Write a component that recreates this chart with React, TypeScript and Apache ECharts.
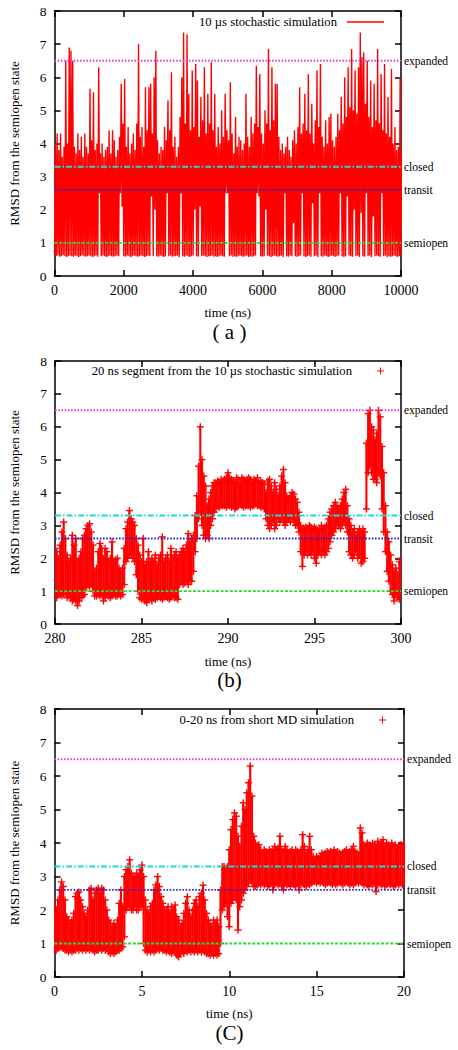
import React, { useEffect, useRef } from "react";
import * as echarts from "echarts";

// ---------- data ----------
const stateNames = ["expanded", "closed", "transit", "semiopen"];
const stateLevels = [6.5, 3.3, 2.6, 1.0];
const stateColors = ["#e040e0", "#20d8d8", "#2828c8", "#30d830"];
const stateDash = [[1.6, 1.6], [6, 2, 1.6, 2], [1.6, 1.6], [3, 1.6]];

const legendA = "10 µs stochastic simulation";
const legendB = "20 ns segment from the 10 µs stochastic simulation";
const legendC = "0-20 ns from short MD simulation";
const panelTags = ["( a )", "(b)", "(C)"];

// panel (a): 50 ns bins, 0..10000 ns, lower and upper value in each bin
const binA = 50;
const rangeA = [0, 10000];
const stepA = 2000;
const highA = [
  4.0, 4.3, 3.8, 4.3, 3.6, 3.9, 6.5, 4.0, 6.9, 6.8,
  6.5, 3.9, 3.7, 4.3, 3.8, 4.2, 3.6, 4.3, 3.9, 3.7,
  5.65, 4.1, 5.55, 3.8, 4.0, 6.3, 3.7, 4.0, 3.6, 3.8,
  3.9, 4.4, 3.7, 4.4, 4.1, 3.6, 3.8, 4.2, 5.8, 4.6,
  5.95, 3.9, 4.5, 3.7, 4.0, 4.3, 3.8, 4.6, 7.0, 4.2,
  4.5, 3.9, 5.7, 4.4, 5.7, 5.8, 4.3, 6.0, 6.8, 4.1,
  3.7, 3.9, 3.8, 4.5, 4.1, 5.3, 4.4, 6.15, 3.9, 4.2,
  3.6, 3.9, 4.8, 6.0, 7.35, 4.6, 7.3, 5.5, 4.4, 6.2,
  4.5, 6.4, 5.9, 4.2, 5.4, 4.7, 6.3, 4.3, 5.5, 4.6,
  6.45, 4.4, 5.5, 3.9, 4.5, 4.0, 5.0, 4.2, 5.5, 4.4,
  4.1, 5.85, 4.3, 3.7, 4.8, 3.9, 4.2, 4.1, 3.8, 4.0,
  5.5, 4.2, 3.9, 4.8, 4.3, 4.6, 6.35, 4.5, 6.1, 4.3,
  4.0, 5.0, 4.6, 6.85, 4.4, 6.3, 4.7, 5.8, 5.8, 4.2,
  3.8, 4.0, 3.7, 3.9, 4.2, 3.8, 3.6, 4.1, 4.4, 4.0,
  4.5, 5.7, 4.3, 4.6, 5.5, 4.4, 6.1, 4.3, 5.2, 4.0,
  4.7, 6.2, 4.5, 6.4, 4.2, 3.9, 4.7, 4.0, 4.8, 4.9,
  4.1, 3.9, 4.2, 4.9, 4.4, 5.4, 4.6, 6.0, 4.8, 6.3,
  5.1, 6.85, 5.0, 6.2, 4.9, 6.3, 7.35, 6.6, 6.75, 5.2,
  6.5, 4.8, 5.9, 4.5, 5.8, 4.7, 6.85, 4.6, 6.1, 4.4,
  6.4, 4.3, 5.4, 4.2, 6.25, 4.0, 4.5, 3.8, 3.9, 6.0,
  3.7,
];
const lowA = [
  0.65, 0.6, 0.62, 0.58, 0.6, 0.63, 0.6, 0.57, 0.6, 0.62,
  0.6, 0.58, 0.62, 0.6, 0.57, 0.6, 0.63, 0.6, 0.58, 0.6,
  0.62, 0.6, 0.57, 0.6, 0.62, 0.58, 2.5, 0.6, 0.62, 0.6,
  0.57, 0.6, 0.62, 0.6, 0.58, 0.6, 0.62, 0.6, 2.5, 2.1,
  0.6, 0.58, 0.62, 0.6, 0.57, 0.6, 0.62, 0.6, 0.58, 0.6,
  0.62, 0.6, 0.57, 0.6, 0.62, 0.6, 2.4, 0.6, 2.0, 0.6,
  0.58, 0.62, 0.6, 0.57, 0.6, 2.5, 0.6, 0.62, 0.58, 0.6,
  0.6, 0.62, 0.57, 2.5, 0.6, 0.58, 0.62, 0.6, 0.57, 0.6,
  0.62, 2.0, 0.6, 0.58, 2.1, 0.6, 0.62, 0.6, 0.57, 0.6,
  0.6, 0.62, 0.58, 0.6, 0.57, 0.6, 0.62, 0.6, 0.58, 2.5,
  2.5, 0.6, 0.62, 0.58, 0.6, 0.57, 0.6, 0.62, 0.6, 0.58,
  0.6, 0.62, 0.57, 0.6, 0.58, 0.6, 0.62, 2.5, 2.4, 0.6,
  0.58, 0.6, 2.0, 0.62, 0.6, 0.57, 0.6, 0.62, 0.6, 0.58,
  0.6, 0.62, 0.57, 2.5, 0.6, 0.58, 0.62, 0.6, 1.6, 0.6,
  0.58, 0.6, 0.62, 2.5, 0.6, 0.57, 0.6, 0.62, 0.58, 2.2,
  0.6, 0.62, 0.57, 2.5, 0.6, 0.58, 0.62, 0.6, 0.57, 0.6,
  0.62, 0.6, 0.58, 0.6, 0.62, 2.5, 0.6, 0.57, 0.6, 2.4,
  0.62, 0.6, 0.58, 2.0, 0.6, 0.62, 0.57, 1.9, 0.6, 0.58,
  2.5, 0.6, 0.62, 0.57, 1.8, 0.6, 0.62, 0.6, 0.58, 2.5,
  0.6, 0.62, 0.57, 0.6, 0.58, 0.6, 0.62, 0.6, 0.57, 0.6,
  0.62,
];

// panel (b): 0.1 ns bins, 280..300 ns
const binB = 0.1;
const rangeB = [280, 300];
const stepB = 5;
const lowB = [
  0.85, 0.8, 0.9, 0.9, 0.85, 0.9, 1.0, 0.8, 0.85, 0.8,
  0.7, 0.75, 0.7, 0.56, 0.7, 0.8, 0.85, 0.9, 1.1, 1.2,
  1.15, 1.2, 1.0, 0.85, 0.85, 0.9, 0.85, 0.9, 0.7, 0.8,
  0.9, 0.85, 0.8, 0.85, 0.9, 0.85, 0.85, 0.9, 0.85, 0.9,
  1.2, 1.9, 2.0, 2.1, 2.1, 2.0, 1.9, 1.5, 1.0, 0.8,
  0.75, 0.8, 0.7, 0.65, 0.75, 0.8, 0.7, 0.8, 0.75, 0.8,
  0.85, 0.8, 0.75, 0.8, 0.85, 0.8, 0.75, 0.8, 0.85, 0.8,
  0.8, 0.75, 1.2, 1.3, 1.2, 1.25, 1.3, 1.2, 1.3, 1.3,
  1.6, 2.2, 2.6, 3.2, 3.4, 3.0, 2.7, 2.6, 2.7, 2.6,
  3.0, 3.2, 3.4, 3.5, 3.6, 3.55, 3.6, 3.6, 3.6, 3.55,
  3.6, 3.6, 3.55, 3.6, 3.5, 3.55, 3.6, 3.65, 3.6, 3.55,
  3.6, 3.6, 3.6, 3.55, 3.6, 3.6, 3.65, 3.6, 3.6, 3.55,
  3.6, 3.5, 3.2, 3.0, 2.9, 3.0, 3.1, 2.9, 3.0, 3.2,
  3.1, 3.2, 3.1, 3.0, 3.1, 3.2, 3.1, 3.2, 3.1, 3.0,
  3.0, 2.8, 2.2, 1.75, 2.1, 2.2, 2.1, 2.2, 2.1, 2.2,
  2.0, 1.85, 2.1, 2.2, 2.1, 2.2, 2.1, 2.2, 2.3, 2.5,
  2.7, 2.8, 2.9, 3.0, 3.0, 2.9, 3.0, 3.1, 3.0, 2.8,
  2.2, 2.1, 2.0, 2.1, 2.2, 2.0, 2.1, 1.85, 1.9, 2.0,
  3.5, 4.6, 4.8, 4.6, 4.4, 4.4, 4.3, 4.6, 4.5, 3.5,
  2.8, 2.2, 1.6, 1.3, 1.0, 0.9, 0.7, 0.9, 0.8, 0.75,
  0.9,
];
const highB = [
  2.3, 2.2, 2.0, 2.4, 2.8, 3.1, 2.6, 2.1, 1.9, 2.0,
  2.7, 2.4, 2.6, 1.9, 2.0, 2.2, 2.6, 2.7, 2.9, 3.0,
  3.05, 2.8, 2.4, 1.6, 1.7, 2.2, 2.45, 2.3, 2.0, 2.3,
  2.2, 1.9, 2.0, 2.5, 1.9, 1.95, 2.0, 1.7, 1.6, 1.7,
  2.3, 2.9, 3.1, 3.45, 3.2, 3.1, 3.0, 2.6, 2.4, 2.1,
  1.9, 2.6, 1.8, 1.9, 2.2, 1.9, 2.0, 1.9, 2.1, 1.8,
  2.0, 2.1, 2.65, 1.9, 2.0, 2.1, 1.9, 2.3, 2.0, 2.1,
  2.2, 2.0, 2.1, 2.2, 2.3, 2.2, 2.4, 2.75, 2.5, 2.6,
  2.7, 3.3, 3.9, 4.8, 6.0, 5.0, 4.5, 4.2, 3.6, 3.8,
  4.0, 4.2, 4.3, 4.3, 4.35, 4.3, 4.4, 4.35, 4.4, 4.45,
  4.6, 4.45, 4.4, 4.35, 4.3, 4.45, 4.4, 4.3, 4.45, 4.4,
  4.35, 4.4, 4.45, 4.4, 4.3, 4.4, 4.35, 4.45, 4.3, 4.35,
  4.3, 4.25, 4.0, 4.35, 4.4, 4.2, 4.0, 4.3, 4.1, 3.9,
  4.2, 4.5, 4.7, 4.3, 3.9, 3.8, 3.9, 4.0, 3.95, 3.8,
  3.7, 3.4, 3.0, 2.9, 2.9, 2.95, 2.9, 3.0, 2.95, 2.9,
  2.95, 2.9, 2.85, 2.9, 3.0, 2.9, 2.95, 3.0, 3.2, 3.4,
  3.5, 3.6, 3.7, 3.6, 3.5, 3.6, 3.8, 4.0, 4.1, 3.6,
  3.2, 3.0, 2.8, 2.9, 2.7, 2.8, 2.9, 2.8, 2.9, 2.8,
  5.5, 6.4, 6.5, 6.0, 5.9, 5.6, 5.8, 6.5, 6.3, 5.4,
  4.6, 3.6, 2.8, 2.5, 2.1, 1.8, 1.6, 1.7, 1.5, 1.9,
  2.0,
];

// panel (c): 0.1 ns bins, 0..20 ns
const binC = 0.1;
const rangeC = [0, 20];
const stepC = 5;
const lowC = [
  0.8, 0.8, 0.85, 0.9, 0.9, 0.85, 0.8, 0.8, 0.75, 0.8,
  0.75, 0.8, 0.8, 0.85, 0.8, 0.85, 0.8, 0.85, 0.8, 0.85,
  0.8, 0.85, 0.8, 0.75, 0.8, 0.8, 0.85, 0.8, 0.85, 0.8,
  0.85, 0.75, 0.7, 0.75, 0.7, 0.75, 0.8, 0.8, 0.85, 0.9,
  1.2, 2.0, 2.1, 2.1, 2.0, 2.0, 2.1, 2.0, 2.0, 2.1,
  2.1, 1.0, 0.8, 0.75, 0.8, 0.75, 0.8, 0.75, 0.8, 0.85,
  0.8, 0.85, 0.8, 0.8, 0.75, 0.8, 0.75, 0.7, 0.8, 0.75,
  0.65, 0.6, 0.7, 0.75, 0.7, 0.8, 0.75, 0.8, 0.75, 0.8,
  0.75, 0.8, 0.75, 0.8, 0.75, 0.8, 0.75, 0.7, 0.7, 0.65,
  0.7, 0.65, 0.7, 0.65, 0.7, 1.0, 2.0, 2.1, 2.2, 1.8,
  1.5, 2.2, 2.3, 2.4, 2.3, 1.4, 2.1, 2.3, 2.5, 2.6,
  2.7, 2.8, 2.9, 2.8, 2.7, 2.7, 2.75, 2.8, 2.75, 2.8,
  2.75, 2.8, 2.7, 2.75, 2.8, 2.6, 2.75, 2.8, 2.75, 2.8,
  2.7, 2.6, 2.8, 2.75, 2.8, 2.7, 2.8, 2.75, 2.7, 2.8,
  2.6, 2.75, 2.8, 2.75, 2.7, 2.8, 2.75, 2.8, 2.85, 2.85,
  2.8, 2.85, 2.8, 2.85, 2.8, 2.75, 2.8, 2.85, 2.8, 2.75,
  2.8, 2.75, 2.8, 2.85, 2.8, 2.75, 2.8, 2.85, 2.8, 2.75,
  2.8, 2.75, 2.8, 2.85, 2.8, 2.85, 2.8, 2.75, 2.8, 2.75,
  2.7, 2.8, 2.75, 2.8, 2.55, 2.75, 2.8, 2.75, 2.8, 2.7,
  2.75, 2.8, 2.75, 2.8, 2.7, 2.75, 2.8, 2.75, 2.8, 2.75,
  2.85,
];
const highC = [
  2.1, 2.0, 2.3, 2.6, 2.84, 2.7, 2.3, 1.8, 1.7, 1.6,
  1.7, 1.9, 2.4, 2.5, 2.54, 2.3, 2.1, 1.9, 1.8, 2.0,
  2.6, 2.65, 2.3, 2.5, 2.6, 2.65, 2.5, 2.65, 2.6, 2.3,
  2.0, 1.7, 1.6, 1.5, 1.6, 1.5, 1.7, 2.2, 2.6, 2.1,
  3.0, 3.2, 3.3, 3.5, 3.1, 3.0, 3.0, 3.1, 3.0, 3.2,
  3.34, 3.0, 2.3, 2.0, 1.9, 2.1, 2.2, 2.6, 2.75, 3.0,
  2.7, 2.4, 2.2, 2.0, 2.0, 2.1, 1.9, 2.1, 2.0, 2.15,
  1.8, 1.7, 1.5, 1.6, 1.9, 2.2, 2.4, 2.0, 1.8, 2.0,
  2.2, 2.3, 2.1, 2.4, 2.5, 2.74, 2.3, 1.9, 1.7, 1.6,
  1.5, 1.7, 1.6, 1.7, 1.5, 2.6, 3.3, 3.3, 3.25, 3.3,
  3.8, 4.4, 4.7, 4.9, 4.8, 4.2, 3.9, 4.5, 5.2, 5.0,
  5.5, 5.8, 6.3, 5.4, 4.2, 4.0, 3.9, 3.95, 3.8, 3.7,
  3.8, 3.75, 3.7, 3.8, 3.75, 3.8, 3.9, 3.8, 3.85, 4.2,
  3.8, 3.75, 3.9, 3.8, 3.7, 3.75, 3.8, 3.7, 3.8, 3.75,
  3.7, 3.8, 4.25, 3.9, 3.7, 3.8, 4.2, 3.8, 3.6, 3.5,
  3.6, 3.55, 3.6, 3.7, 3.65, 3.7, 3.75, 3.7, 3.75, 3.7,
  3.8, 3.7, 3.75, 3.7, 3.65, 3.7, 3.75, 3.8, 3.7, 3.75,
  3.8, 3.9, 3.75, 3.7, 3.65, 4.45, 4.3, 3.95, 3.9, 4.0,
  3.95, 3.9, 4.0, 3.95, 3.9, 4.05, 3.95, 4.0, 4.1, 3.9,
  4.0, 3.95, 3.9, 4.0, 3.9, 3.95, 3.85, 3.9, 3.95, 3.9,
  4.0,
];

const rangeY = [0, 8];
const stepY = 1;

// ---------- styling ----------
const FONT = "'Liberation Serif', 'DejaVu Serif', serif";
const RED = "#ff0000";
const BLACK = "#000000";

const grids = [
  { left: 53, top: 11, width: 348, height: 265 },
  { left: 54, top: 361, width: 347, height: 263 },
  { left: 51, top: 709, width: 353, height: 268 },
];
const xNameGap = [29.5, 30.5, 29.5];
const yNameGap = [33.5, 34, 33.5];
const tagY = [332, 680, 1033];
const legendTop = [15.5, 364.5, 713.5];
const legendRight = [74, 74, 72];

const PLUS_ICON = "path://M3,0h1v3h3v1h-3v3h-1v-3h-3v-1h3z";
const LINE_ICON = "path://M0,0h37v1.5h-37z";

function plusRects(p: number[]) {
  return [
    { type: "rect", shape: { x: p[0] - 3.5, y: p[1] - 0.7, width: 7, height: 1.4 }, style: { fill: RED } },
    { type: "rect", shape: { x: p[0] - 0.7, y: p[1] - 3.5, width: 1.4, height: 7 }, style: { fill: RED } },
  ];
}

function makeRangeRender(bin: number) {
  return (params: any, api: any) => {
    const t = api.value(0);
    const lo = api.value(1);
    const hi = api.value(2);
    const pl = api.coord([t, lo]);
    const ph = api.coord([t, hi]);
    const w = api.size([bin, 0])[0] + 0.4;
    return {
      type: "group",
      children: [
        {
          type: "rect",
          shape: { x: pl[0] - w / 2, y: ph[1], width: w, height: Math.max(pl[1] - ph[1], 0.5) },
          style: { fill: RED },
        },
        ...plusRects(pl),
        ...plusRects(ph),
      ],
    };
  };
}

function buildOption() {
  const ranges = [rangeA, rangeB, rangeC];
  const steps = [stepA, stepB, stepC];
  const xAxis: any[] = [];
  const yAxis: any[] = [];
  const lineStyle = { color: BLACK, width: 1.5 };
  grids.forEach((_, g) => {
    xAxis.push({
      type: "value",
      gridIndex: g,
      min: ranges[g][0],
      max: ranges[g][1],
      interval: steps[g],
      position: "bottom",
      name: "time (ns)",
      nameLocation: "middle",
      nameGap: xNameGap[g],
      nameTextStyle: { color: BLACK, fontFamily: FONT, fontSize: 13 },
      axisLine: { show: true, onZero: false, lineStyle },
      axisTick: { show: true, inside: true, length: 6, lineStyle },
      axisLabel: {
        color: BLACK,
        fontFamily: FONT,
        fontSize: 14,
        margin: 7,
        formatter: (v: number) => String(v),
      },
      splitLine: { show: false },
    });
    xAxis.push({
      type: "value",
      gridIndex: g,
      min: ranges[g][0],
      max: ranges[g][1],
      interval: steps[g],
      position: "top",
      axisLine: { show: true, onZero: false, lineStyle },
      axisTick: { show: true, inside: true, length: 6, lineStyle },
      axisLabel: { show: false },
      splitLine: { show: false },
    });
    yAxis.push({
      type: "value",
      gridIndex: g,
      min: rangeY[0],
      max: rangeY[1],
      interval: stepY,
      position: "left",
      name: "RMSD from the semiopen state",
      nameLocation: "middle",
      nameGap: yNameGap[g],
      nameTextStyle: { color: BLACK, fontFamily: FONT, fontSize: 13 },
      axisLine: { show: true, onZero: false, lineStyle },
      axisTick: { show: true, inside: true, length: 6, lineStyle },
      axisLabel: { color: BLACK, fontFamily: FONT, fontSize: 13.5, margin: 8 },
      splitLine: { show: false },
    });
    yAxis.push({
      type: "value",
      gridIndex: g,
      min: rangeY[0],
      max: rangeY[1],
      interval: stepY,
      position: "right",
      axisLine: { show: true, onZero: false, lineStyle },
      axisTick: { show: true, inside: true, length: 6, lineStyle },
      axisLabel: { show: false },
      splitLine: { show: false },
    });
  });

  // panel (a) drawn as a dense trace alternating between each bin's low and high value
  const traceA: number[][] = [];
  lowA.forEach((lo, i) => {
    traceA.push([rangeA[0] + i * binA, lo]);
    traceA.push([rangeA[0] + i * binA + binA / 2, highA[i]]);
  });
  const dataB = lowB.map((lo, i) => [rangeB[0] + i * binB, lo, highB[i]]);
  const dataC = lowC.map((lo, i) => [rangeC[0] + i * binC, lo, highC[i]]);

  const series: any[] = [
    {
      type: "line",
      name: legendA,
      xAxisIndex: 0,
      yAxisIndex: 0,
      data: traceA,
      showSymbol: false,
      symbol: "none",
      lineStyle: { color: RED, width: 1.4, join: "bevel" },
      itemStyle: { color: RED },
      clip: true,
      z: 2,
      silent: true,
    },
    {
      type: "custom",
      name: legendB,
      xAxisIndex: 2,
      yAxisIndex: 2,
      data: dataB,
      encode: { x: 0, y: [1, 2] },
      renderItem: makeRangeRender(binB),
      itemStyle: { color: RED },
      clip: true,
      z: 2,
      silent: true,
    },
    {
      type: "custom",
      name: legendC,
      xAxisIndex: 4,
      yAxisIndex: 4,
      data: dataC,
      encode: { x: 0, y: [1, 2] },
      renderItem: makeRangeRender(binC),
      itemStyle: { color: RED },
      clip: true,
      z: 2,
      silent: true,
    },
  ];

  grids.forEach((_, g) => {
    stateLevels.forEach((lvl, k) => {
      series.push({
        type: "line",
        name: stateNames[k] + "-" + g,
        xAxisIndex: 2 * g,
        yAxisIndex: 2 * g,
        data: [
          [ranges[g][0], lvl],
          [ranges[g][1], lvl],
        ],
        showSymbol: false,
        symbol: "none",
        lineStyle: { color: stateColors[k], width: 1.9, type: stateDash[k] },
        z: 5,
        silent: true,
        endLabel: {
          show: true,
          formatter: stateNames[k],
          color: BLACK,
          fontFamily: FONT,
          fontSize: 11.5,
          distance: 3,
        },
      });
    });
  });

  const legendNames = [legendA, legendB, legendC];
  const legend = legendNames.map((nm, g) => ({
    data: [{ name: nm, icon: g === 0 ? LINE_ICON : PLUS_ICON }],
    right: legendRight[g],
    top: legendTop[g],
    orient: "horizontal",
    align: "right",
    itemWidth: 37,
    itemHeight: g === 0 ? 8 : 7,
    padding: 0,
    selectedMode: false,
    textStyle: { color: BLACK, fontFamily: FONT, fontSize: 12.7, padding: [0, 5, 0, 0] },
  }));

  const graphic = panelTags.map((tag, g) => ({
    type: "text",
    x: 229.5,
    y: tagY[g],
    style: {
      text: tag,
      font: "21px " + FONT,
      fill: BLACK,
      textAlign: "center",
      textVerticalAlign: "middle",
    },
  }));

  return {
    animation: false,
    backgroundColor: "#ffffff",
    textStyle: { fontFamily: FONT },
    grid: grids,
    xAxis,
    yAxis,
    legend,
    series,
    graphic,
  };
}

export default function App() {
  const ref = useRef<HTMLDivElement>(null);
  useEffect(() => {
    if (!ref.current) return;
    const chart = echarts.init(ref.current, undefined, { renderer: "svg" });
    chart.setOption(buildOption() as any);
    return () => chart.dispose();
  }, []);
  return (
    <div
      ref={ref}
      style={{ position: "absolute", left: 0, top: 0, width: 458, height: 1050, background: "#fff" }}
    />
  );
}
